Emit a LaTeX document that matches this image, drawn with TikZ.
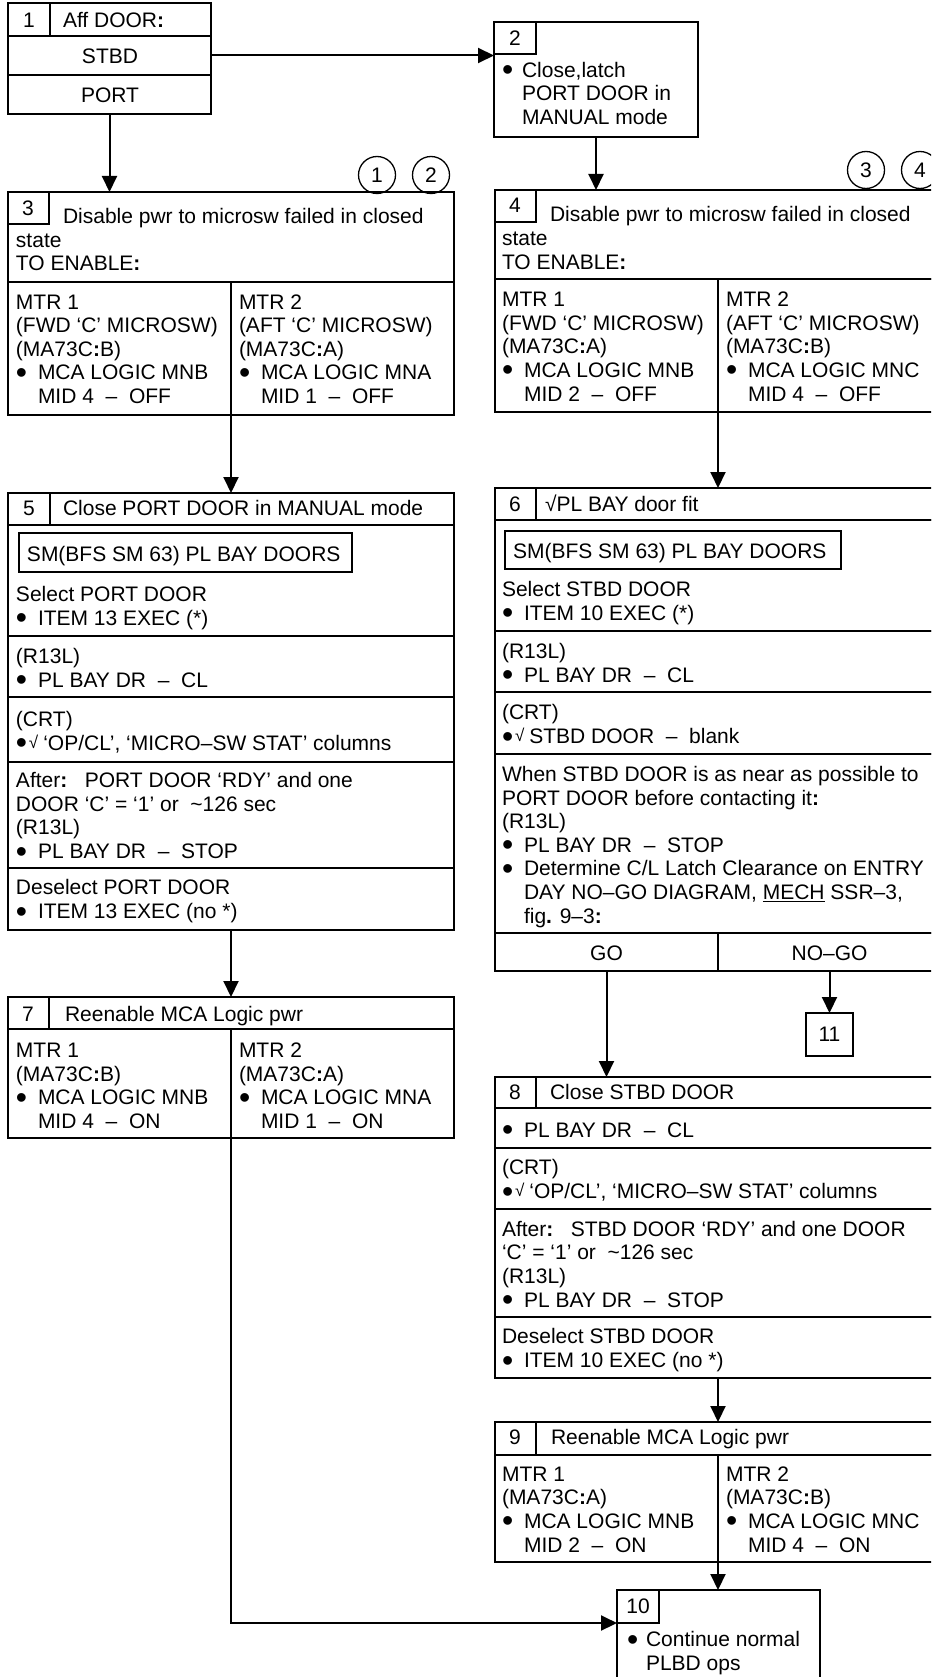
\documentclass[tikz,border=0pt]{standalone}
\usepackage{fontspec}
\setmainfont{Liberation Sans}
\usetikzlibrary{arrows.meta}
\newcommand{\fs}{\fontsize{21}{23.6}\selectfont}
\newcommand{\cln}{\textbf{:}}
\newcommand{\bigdot}{\raisebox{-3.5pt}{\fontsize{32}{32}\selectfont •}}
\newcommand{\bul}{\makebox[22pt][l]{\bigdot}}
\newcommand{\ind}{\hspace*{22pt}}
\newcommand{\bchk}{\makebox[13pt][l]{\bigdot}\raisebox{2pt}{\fontsize{17}{17}\selectfont √}\hspace{5pt}}
\newcommand{\dsh}{\ \ –\ \ }
\tikzset{
  fr/.style={draw, line width=2pt, inner sep=0pt, outer sep=0pt, anchor=north west},
  tx/.style={anchor=base west, inner sep=0pt, outer sep=0pt, align=left, font=\fs},
  num/.style={anchor=center, inner sep=0pt, outer sep=0pt, font=\fs},
  arr/.style={line width=2pt, -{Triangle[length=16pt,width=15pt]}},
  circ/.style={draw, circle, line width=1.3pt, minimum size=37pt, inner sep=0pt, font=\fs},
}
\newcommand{\frm}[5]{\node[fr, minimum width=#4pt, minimum height=#5pt] (#1) at (#2,#3) {};}
\begin{document}
\begin{tikzpicture}[x=1pt,y=-1pt]
\useasboundingbox (0,0) rectangle (931,1677);
\fill[white] (0,0) rectangle (931,1677);
\clip (0,0) rectangle (931,1677);

% (multi-line text nodes are placed at the baseline of their LAST line)

% ---- Box 1
\frm{b1h}{8}{3}{203}{33}
\frm{b1n}{8}{3}{42}{33}
\frm{b1s}{8}{36}{203}{39}
\frm{b1p}{8}{75}{203}{39}
\node[num] (t1n) at (29,20) {1};
\node[tx] (t1a) at (63,28) {Aff DOOR\cln};
\node[tx, anchor=base] (t1s) at (110,64) {STBD};
\node[tx, anchor=base] (t1p) at (110,103) {PORT};

% ---- Box 2
\frm{b2}{494}{22}{204}{115}
\frm{b2n}{494}{22}{42}{32}
\node[num] (t2n) at (515,38) {2};
\node[tx] (t2a) at (502,124.5) {\makebox[20pt][l]{\bigdot}Close,latch\\\hspace*{20pt}PORT DOOR in\\\hspace*{20pt}MANUAL mode};

% ---- circles
\node[circ] (c1) at (377,175) {1};
\node[circ] (c2) at (431,175) {2};
\node[circ] (c3) at (866,170) {3};
\node[circ] (c4) at (920,170) {4};

% ---- Box 3
\frm{b3h}{8}{192}{446}{90}
\frm{b3n}{8}{192}{41}{32}
\frm{b3l}{8}{282}{223}{133}
\frm{b3r}{231}{282}{223}{133}
\node[num] (t3n) at (28,208) {3};
\node[tx] (t3a) at (63,224) {Disable pwr to microsw failed in closed};
\node[tx] (t3b) at (16,271) {state\\TO ENABLE\cln};
\node[tx] (t3l) at (16,403.5) {MTR 1\\(FWD ‘C’ MICROSW)\\(MA73C\cln B)\\\bul MCA LOGIC MNB\\\ind MID 4\dsh OFF};
\node[tx] (t3r) at (239,403.5) {MTR 2\\(AFT ‘C’ MICROSW)\\(MA73C\cln A)\\\bul MCA LOGIC MNA\\\ind MID 1\dsh OFF};

% ---- Box 4
\frm{b4h}{495}{190}{446}{89}
\frm{b4n}{495}{190}{41}{32}
\frm{b4l}{495}{279}{223}{133}
\frm{b4r}{718}{279}{223}{133}
\node[num] (t4n) at (515,205) {4};
\node[tx] (t4a) at (550,222) {Disable pwr to microsw failed in closed};
\node[tx] (t4b) at (502,269.5) {state\\TO ENABLE\cln};
\node[tx] (t4l) at (502,401) {MTR 1\\(FWD ‘C’ MICROSW)\\(MA73C\cln A)\\\bul MCA LOGIC MNB\\\ind MID 2\dsh OFF};
\node[tx] (t4r) at (726,401) {MTR 2\\(AFT ‘C’ MICROSW)\\(MA73C\cln B)\\\bul MCA LOGIC MNC\\\ind MID 4\dsh OFF};

% ---- Box 5
\frm{b5h}{8}{493}{446}{32}
\frm{b5n}{8}{493}{42}{32}
\frm{b5a}{8}{525}{446}{111}
\frm{b5sm}{19}{533}{333}{39}
\frm{b5b}{8}{636}{446}{61}
\frm{b5c}{8}{697}{446}{65}
\frm{b5d}{8}{762}{446}{106}
\frm{b5e}{8}{868}{446}{62}
\node[num] (t5n) at (29,508) {5};
\node[tx] (t5h) at (63,515) {Close PORT DOOR in MANUAL mode};
\node[tx] (t5sm) at (27,561) {SM(BFS SM 63) PL BAY DOORS};
\node[tx] (t5a) at (16,625) {Select PORT DOOR\\\bul ITEM 13 EXEC (*)};
\node[tx] (t5b) at (16,687) {(R13L)\\\bul PL BAY DR\dsh CL};
\node[tx] (t5c) at (16,750) {(CRT)\\\bchk ‘OP/CL’, ‘MICRO–SW STAT’ columns};
\node[tx] (t5d) at (16,858.5) {After\cln\ \ \ PORT DOOR ‘RDY’ and one\\DOOR ‘C’ = ‘1’ or\ \ \textasciitilde126 sec\\(R13L)\\\bul PL BAY DR\dsh STOP};
\node[tx] (t5e) at (16,918.5) {Deselect PORT DOOR\\\bul ITEM 13 EXEC (no *)};

% ---- Box 6
\frm{b6h}{495}{488}{446}{32}
\frm{b6n}{495}{488}{41}{32}
\frm{b6a}{495}{520}{446}{111}
\frm{b6sm}{505}{531}{336}{38}
\frm{b6b}{495}{631}{446}{61}
\frm{b6c}{495}{692}{446}{62}
\frm{b6d}{495}{754}{446}{179}
\frm{b6go}{495}{933}{223}{38}
\frm{b6ng}{718}{933}{223}{38}
\node[num] (t6n) at (515,504) {6};
\node[tx] (t6h) at (545,511) {√PL BAY door fit};
\node[tx] (t6sm) at (513,558) {SM(BFS SM 63) PL BAY DOORS};
\node[tx] (t6a) at (502,620) {Select STBD DOOR\\\bul ITEM 10 EXEC (*)};
\node[tx] (t6b) at (502,682) {(R13L)\\\bul PL BAY DR\dsh CL};
\node[tx] (t6c) at (502,743.5) {(CRT)\\\bchk STBD DOOR\dsh blank};
\node[tx] (t6d) at (502,923) {When STBD DOOR is as near as possible to\\PORT DOOR before contacting it\cln\\(R13L)\\\bul PL BAY DR\dsh STOP\\\bul Determine C/L Latch Clearance on ENTRY\\\ind DAY NO–GO DIAGRAM, \underline{MECH} SSR–3,\\\ind fig\textbf{.} 9–3\cln};
\node[tx, anchor=base] (t6go) at (606.5,960) {GO};
\node[tx, anchor=base] (t6ng) at (829.5,960) {NO–GO};

% ---- Box 7
\frm{b7h}{8}{997}{446}{32}
\frm{b7n}{8}{997}{41}{32}
\frm{b7l}{8}{1029}{223}{109}
\frm{b7r}{231}{1029}{223}{109}
\node[num] (t7n) at (28,1014) {7};
\node[tx] (t7h) at (65,1021) {Reenable MCA Logic pwr};
\node[tx] (t7l) at (16,1128.5) {MTR 1\\(MA73C\cln B)\\\bul MCA LOGIC MNB\\\ind MID 4\dsh ON};
\node[tx] (t7r) at (239,1128.5) {MTR 2\\(MA73C\cln A)\\\bul MCA LOGIC MNA\\\ind MID 1\dsh ON};

% ---- Box 11
\frm{b11}{806}{1013}{47}{43}
\node[num] (t11) at (829.5,1034.5) {11};

% ---- Box 8
\frm{b8h}{495}{1077}{446}{31}
\frm{b8n}{495}{1077}{41}{31}
\frm{b8a}{495}{1108}{446}{40}
\frm{b8b}{495}{1148}{446}{61}
\frm{b8c}{495}{1209}{446}{108}
\frm{b8d}{495}{1317}{446}{61}
\node[num] (t8n) at (515,1092) {8};
\node[tx] (t8h) at (550,1099) {Close STBD DOOR};
\node[tx] (t8a) at (502,1137) {\bul PL BAY DR\dsh CL};
\node[tx] (t8b) at (502,1198.5) {(CRT)\\\bchk ‘OP/CL’, ‘MICRO–SW STAT’ columns};
\node[tx] (t8c) at (502,1307) {After\cln\ \ \ STBD DOOR ‘RDY’ and one DOOR\\‘C’ = ‘1’ or\ \ \textasciitilde126 sec\\(R13L)\\\bul PL BAY DR\dsh STOP};
\node[tx] (t8d) at (502,1367.5) {Deselect STBD DOOR\\\bul ITEM 10 EXEC (no *)};

% ---- Box 9
\frm{b9h}{495}{1422}{446}{33}
\frm{b9n}{495}{1422}{41}{33}
\frm{b9l}{495}{1455}{223}{107}
\frm{b9r}{718}{1455}{223}{107}
\node[num] (t9n) at (515,1437) {9};
\node[tx] (t9h) at (551,1444) {Reenable MCA Logic pwr};
\node[tx] (t9l) at (502,1552) {MTR 1\\(MA73C\cln A)\\\bul MCA LOGIC MNB\\\ind MID 2\dsh ON};
\node[tx] (t9r) at (726,1552) {MTR 2\\(MA73C\cln B)\\\bul MCA LOGIC MNC\\\ind MID 4\dsh ON};

% ---- Box 10
\frm{b10}{617}{1590}{203}{115}
\frm{b10n}{617}{1590}{42}{33}
\node[num] (t10n) at (638,1606) {10};
\node[tx] (t10a) at (627,1670.5) {\makebox[19pt][l]{\bigdot}Continue normal\\\hspace*{19pt}PLBD ops};

% ---- connectors
\draw[arr] (b1s.east) -- (b1s.east -| b2.west);
\draw[arr] (b1p.south) -- (b1p.south |- b3h.north);
\draw[arr] (b2.south) -- (b2.south |- b4h.north);
\draw[arr] (b3l.south east) -- (b3l.south east |- b5h.north);
\draw[arr] (b4l.south east) -- (b4l.south east |- b6h.north);
\draw[arr] (b5e.south) -- (b5e.south |- b7h.north);
\draw[arr] (b6go.south) -- (b6go.south |- b8h.north);
\draw[arr] (b6ng.south) -- (b11.north);
\draw[arr] (b8d.south) -- (b8d.south |- b9h.north);
\draw[arr] (b9l.south east) -- (b9l.south east |- b10.north);
\draw[arr] (b7l.south east) |- (b10n.south west);
\end{tikzpicture}
\end{document}
